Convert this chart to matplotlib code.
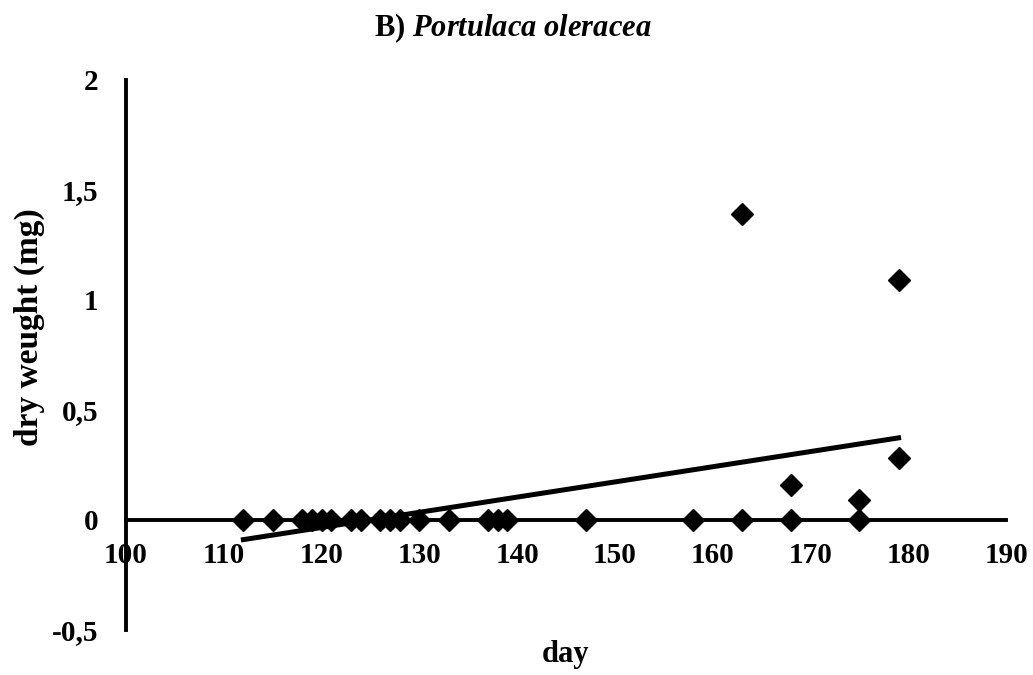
import numpy as np
import matplotlib
matplotlib.use("Agg")
import matplotlib.pyplot as plt
from matplotlib.ticker import FixedLocator, FixedFormatter

plt.rcParams['font.family'] = ['Liberation Serif', 'DejaVu Serif']
plt.rcParams['font.weight'] = 'bold'
plt.rcParams['mathtext.fontset'] = 'custom'
plt.rcParams['mathtext.it'] = 'Liberation Serif:bold:italic'
plt.rcParams['mathtext.rm'] = 'Liberation Serif:bold'

# data
days = [112, 115, 118, 119, 120, 121, 123, 124, 126, 127, 128, 130, 133,
        137, 138, 139, 147, 158, 163, 168, 175, 163, 168, 175, 179, 179]
dry_weight = [0, 0, 0, 0, 0, 0, 0, 0, 0, 0, 0, 0, 0,
              0, 0, 0, 0, 0, 0, 0, 0, 1.39, 0.16, 0.09, 1.09, 0.28]
x_ticks = [100, 110, 120, 130, 140, 150, 160, 170, 180, 190]
y_ticks = [-0.5, 0, 0.5, 1, 1.5, 2]
y_tick_labels = ["-0,5", "0", "0,5", "1", "1,5", "2"]

fig = plt.figure(figsize=(10.33, 6.75), dpi=100)
ax = fig.add_axes([0.122, 0.0667, 0.852, 0.815])

ax.plot(days, dry_weight, linestyle="none", marker="D", markersize=11,
        color="black", zorder=3)

# linear trendline over all points
slope, intercept = np.polyfit(days, dry_weight, 1)
xs = np.array([min(days), max(days)])
ax.plot(xs, slope * xs + intercept, color="black", linewidth=3.6, zorder=2)

ax.set_xlim(100, 190)
ax.set_ylim(-0.5, 2)
ax.spines["top"].set_visible(False)
ax.spines["right"].set_visible(False)
ax.spines["bottom"].set_position(("data", 0))
ax.spines["left"].set_position(("data", 100))
ax.spines["bottom"].set_linewidth(2.8)
ax.spines["left"].set_linewidth(2.8)
ax.spines["bottom"].set_zorder(1)

ax.xaxis.set_major_locator(FixedLocator(x_ticks))
ax.yaxis.set_major_locator(FixedLocator(y_ticks))
ax.yaxis.set_major_formatter(FixedFormatter(y_tick_labels))
ax.tick_params(axis="x", length=0, pad=16, labelsize=21)
ax.tick_params(axis="y", length=0, pad=20, labelsize=21)

fig.text(0.028, 0.515, "dry weught (mg)", rotation=90, ha="center",
         va="center", fontsize=24, fontweight="bold")
fig.text(0.547, 0.03, "day", ha="center", va="center", fontsize=22,
         fontweight="bold")
fig.text(0.496, 0.958, r"B) $\mathit{Portulaca\ oleracea}$", ha="center",
         va="center", fontsize=22, fontweight="bold")

fig.savefig("out.png", dpi=100)
